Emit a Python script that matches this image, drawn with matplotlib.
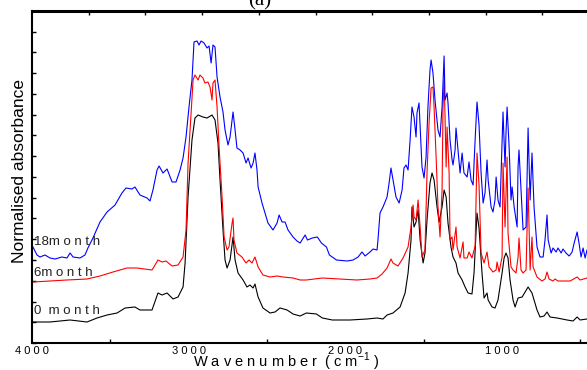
import matplotlib
matplotlib.use("Agg")
import matplotlib.pyplot as plt
import numpy as np

# ---------------- data (wavenumber cm-1, normalised absorbance, arbitrary units) -------------
wn_0m = [4000, 3885, 3757, 3649, 3585, 3521, 3457, 3406, 3343, 3311, 3234, 3196, 3170, 3138, 3100,
         3068, 3036, 3023, 3004, 2979, 2960, 2940, 2909, 2883, 2851, 2832, 2813, 2800, 2781, 2768,
         2755, 2736, 2717, 2704, 2685, 2653, 2628, 2609, 2589, 2577, 2557, 2526, 2481, 2449, 2417,
         2372, 2334, 2289, 2249, 2185, 2147, 2083, 1970, 1862, 1798, 1760, 1734, 1696, 1651, 1619,
         1600, 1581, 1575, 1562, 1549, 1536, 1523, 1504, 1492, 1479, 1460, 1447, 1434, 1415, 1402,
         1383, 1370, 1357, 1345, 1326, 1313, 1294, 1281, 1255, 1236, 1217, 1192, 1179, 1160, 1147,
         1128, 1115, 1096, 1089, 1064, 1045, 1026, 1000, 987, 975, 962, 949, 930, 917, 898,
         872, 853, 834, 809, 777, 758, 732, 713, 694, 649, 585, 547, 521, 502, 458]
ab_0m = [0.21, 0.21, 0.23, 0.21, 0.25, 0.28, 0.30, 0.35, 0.36, 0.33, 0.33, 0.50, 0.48, 0.50, 0.44,
         0.46, 0.56, 0.80, 1.46, 2.03, 2.25, 2.28, 2.26, 2.25, 2.28, 2.23, 2.00, 1.63, 1.13, 0.83,
         0.75, 0.83, 1.06, 0.83, 0.70, 0.63, 0.56, 0.58, 0.55, 0.59, 0.46, 0.35, 0.30, 0.31, 0.35,
         0.33, 0.29, 0.27, 0.30, 0.29, 0.25, 0.23, 0.23, 0.24, 0.25, 0.24, 0.28, 0.30, 0.36, 0.50,
         0.70, 1.03, 1.36, 1.16, 1.21, 1.33, 1.03, 0.80, 0.90, 1.23, 1.60, 1.70, 1.63, 1.36, 1.21,
         1.36, 1.53, 1.46, 1.20, 0.96, 0.86, 0.80, 0.70, 0.63, 0.56, 0.50, 0.49, 0.70, 1.30, 1.15,
         0.70, 0.45, 0.50, 0.43, 0.36, 0.35, 0.43, 0.70, 0.85, 0.90, 0.85, 0.63, 0.43, 0.36, 0.45,
         0.46, 0.51, 0.56, 0.50, 0.33, 0.26, 0.27, 0.31, 0.26, 0.25, 0.23, 0.22, 0.26, 0.23, 0.24]

wn_6m = [3994, 3885, 3777, 3649, 3566, 3483, 3394, 3330, 3234, 3196, 3170, 3145, 3106, 3068, 3036,
         3017, 3004, 2985, 2972, 2960, 2940, 2928, 2909, 2896, 2877, 2864, 2851, 2845, 2832, 2819,
         2806, 2787, 2774, 2755, 2743, 2723, 2717, 2711, 2692, 2660, 2634, 2615, 2596, 2577, 2557,
         2526, 2481, 2436, 2398, 2334, 2289, 2249, 2147, 2034, 1926, 1843, 1798, 1766, 1734, 1709,
         1696, 1664, 1632, 1600, 1581, 1568, 1562, 1549, 1536, 1523, 1511, 1492, 1479, 1466, 1453,
         1441, 1434, 1421, 1409, 1396, 1383, 1377, 1370, 1364, 1357, 1351, 1338, 1332, 1319, 1313,
         1294, 1287, 1268, 1249, 1243, 1223, 1211, 1192, 1172, 1160, 1147, 1134, 1115, 1096, 1083,
         1058, 1038, 1032, 1019, 1000, 994, 981, 968, 962, 943, 930, 911, 898, 892, 879,
         866, 847, 834, 821, 809, 802, 777, 745, 726, 713, 700, 675, 662, 643, 566,
         521, 502, 458]
ab_6m = [0.61, 0.62, 0.63, 0.64, 0.67, 0.71, 0.75, 0.75, 0.73, 0.83, 0.81, 0.82, 0.77, 0.78, 0.86,
         1.13, 1.80, 2.30, 2.63, 2.68, 2.63, 2.68, 2.65, 2.60, 2.61, 2.56, 2.43, 2.60, 2.63, 2.36,
         1.96, 1.46, 1.06, 0.93, 0.96, 1.20, 1.25, 1.03, 0.90, 0.86, 0.80, 0.83, 0.80, 0.86, 0.76,
         0.68, 0.66, 0.67, 0.66, 0.65, 0.63, 0.63, 0.65, 0.64, 0.63, 0.64, 0.65, 0.69, 0.75, 0.84,
         0.80, 0.77, 0.85, 0.96, 1.16, 1.38, 1.26, 1.23, 1.43, 1.16, 0.86, 0.93, 1.70, 2.20, 2.55,
         2.56, 2.36, 1.86, 1.36, 1.06, 1.53, 2.36, 2.63, 2.26, 1.76, 2.16, 1.70, 1.03, 1.06, 0.93,
         1.16, 0.96, 0.85, 1.01, 0.85, 0.85, 0.91, 0.85, 0.97, 1.90, 1.58, 0.90, 0.80, 0.91, 0.76,
         0.71, 0.73, 0.81, 0.71, 0.86, 1.80, 1.16, 1.86, 1.10, 0.76, 0.73, 0.70, 0.86, 1.05, 0.73,
         0.70, 0.73, 1.55, 0.73, 1.06, 0.76, 0.66, 0.62, 0.64, 0.71, 0.64, 0.62, 0.64, 0.62, 0.62,
         0.66, 0.63, 0.65]

wn_18m = [3994, 3968, 3949, 3917, 3885, 3853, 3809, 3777, 3757, 3738, 3694, 3662, 3643, 3611, 3566,
          3521, 3470, 3426, 3400, 3362, 3343, 3311, 3266, 3247, 3228, 3202, 3189, 3164, 3138, 3106,
          3081, 3055, 3036, 3017, 2998, 2979, 2966, 2947, 2934, 2921, 2902, 2883, 2870, 2857, 2845,
          2832, 2819, 2800, 2781, 2768, 2749, 2736, 2717, 2704, 2692, 2672, 2653, 2634, 2621, 2602,
          2589, 2577, 2564, 2557, 2532, 2513, 2494, 2462, 2436, 2423, 2404, 2385, 2366, 2334, 2309,
          2289, 2257, 2242, 2211, 2179, 2153, 2121, 2102, 2057, 1989, 1951, 1919, 1894, 1874, 1843,
          1823, 1798, 1792, 1779, 1760, 1734, 1721, 1709, 1696, 1677, 1657, 1638, 1626, 1613, 1600,
          1587, 1575, 1562, 1549, 1543, 1530, 1523, 1511, 1498, 1485, 1473, 1460, 1453, 1441, 1428,
          1415, 1409, 1396, 1383, 1370, 1364, 1351, 1345, 1332, 1319, 1313, 1300, 1294, 1281, 1268,
          1255, 1243, 1223, 1211, 1198, 1185, 1172, 1160, 1147, 1134, 1121, 1109, 1096, 1089, 1070,
          1058, 1045, 1038, 1026, 1013, 1000, 994, 981, 975, 968, 955, 943, 936, 923, 904,
          898, 892, 879, 866, 847, 834, 821, 809, 796, 777, 758, 738, 726, 713, 706,
          687, 675, 655, 643, 623, 611, 592, 572, 553, 540, 521, 509, 496, 483, 470, 458]
ab_18m = [0.96, 0.88, 0.86, 0.88, 0.85, 0.84, 0.86, 0.85, 0.90, 0.86, 0.85, 0.88, 0.95, 1.05, 1.21,
          1.31, 1.38, 1.50, 1.55, 1.54, 1.56, 1.48, 1.45, 1.42, 1.53, 1.73, 1.77, 1.70, 1.74, 1.61,
          1.61, 1.73, 1.85, 2.06, 2.36, 2.63, 3.01, 3.02, 2.98, 3.02, 3.00, 2.95, 2.97, 2.80, 2.98,
          2.96, 2.66, 2.46, 2.31, 2.13, 1.98, 2.06, 2.31, 2.13, 1.95, 1.93, 1.90, 1.80, 1.85, 1.75,
          1.80, 1.90, 1.73, 1.56, 1.40, 1.30, 1.20, 1.13, 1.20, 1.28, 1.21, 1.21, 1.13, 1.06, 1.02,
          1.00, 1.08, 1.03, 1.05, 1.06, 1.00, 0.96, 0.88, 0.83, 0.82, 0.83, 0.86, 0.91, 0.87, 0.91,
          0.94, 0.93, 1.03, 1.30, 1.36, 1.46, 1.60, 1.75, 1.63, 1.46, 1.40, 1.53, 1.75, 1.78, 1.73,
          2.03, 2.36, 2.26, 2.06, 2.30, 2.40, 2.16, 1.76, 1.65, 1.86, 2.36, 2.73, 2.83, 2.70, 2.43,
          2.23, 2.13, 2.06, 2.36, 2.87, 2.43, 2.50, 2.40, 2.03, 1.83, 1.78, 1.93, 2.15, 1.93, 1.70,
          1.90, 1.70, 1.66, 1.81, 1.63, 1.58, 2.03, 2.41, 2.18, 1.70, 1.40, 1.50, 1.83, 1.63, 1.36,
          1.31, 1.43, 1.66, 1.43, 1.36, 2.03, 2.31, 1.76, 2.10, 2.36, 1.96, 1.43, 1.56, 1.36, 1.16,
          1.76, 1.93, 1.53, 1.13, 1.16, 2.15, 1.43, 1.90, 1.36, 0.96, 0.86, 0.86, 1.03, 1.28, 1.03,
          0.90, 0.95, 0.91, 0.95, 0.90, 0.94, 0.90, 0.87, 0.91, 1.00, 1.11, 1.00, 0.86, 0.95, 0.85, 0.93]

series_labels = ["0  m o n t h", "6m o n t h", "18m o n t h"]
series_label_y = [0.32, 0.70, 1.01]
series_colors = ["black", "red", "blue"]

x_major = [4000, 3000, 2000, 1000]
x_major_labels = ["4 0 0 0", "3 0 0 0", "2 0 0 0", "1 0 0 0"]
x_minor = [3500, 2500, 1500, 500]
top_ticks = [4000 - 362 * k for k in range(1, 10)]

# ---------------- figure -------------
W, H = 587, 370
fig = plt.figure(figsize=(W / 100, H / 100), dpi=100)
ax = fig.add_axes([32 / W, (H - 343) / H, (W - 32) / W, (343 - 11) / H])

for wn, ab, c in [(wn_0m, ab_0m, "black"), (wn_6m, ab_6m, "red"), (wn_18m, ab_18m, "blue")]:
    ax.plot(wn, ab, color=c, lw=0.8)

ax.set_xlim(4000, 458)
ax.set_ylim(0, 3.32)

ax.spines["right"].set_visible(False)
ax.spines["top"].set_visible(False)
ax.spines["left"].set_linewidth(1.5)
ax.spines["bottom"].set_linewidth(1.5)

ax.set_xticks(x_major)
ax.set_xticklabels(x_major_labels, fontsize=8, family="Liberation Sans")
ax.set_xticks(x_minor, minor=True)
ax.tick_params(axis="x", which="major", length=0, pad=2)
ax.tick_params(axis="x", which="minor", length=3, direction="in", width=1)
ax.set_yticks(np.arange(0, 3.33, 0.2075))
ax.set_yticklabels([])
ax.tick_params(axis="y", direction="in", length=3, width=1)

sec = ax.secondary_xaxis("top")
sec.set_xticks(top_ticks)
sec.set_xticklabels([])
sec.tick_params(direction="in", length=3, width=1)
sec.spines["top"].set_linewidth(2.2)

for lab, yv, c in zip(series_labels, series_label_y, series_colors):
    ax.text(3985, yv, lab, fontsize=9.5, family="Liberation Sans", color="#222222",
            ha="left", va="center")

fig.text(19.5 / W, 1 - 171 / H, "Normalised absorbance", rotation=90, ha="center", va="center",
         fontsize=12.5, family=["Liberation Sans Narrow", "Liberation Sans"])

plt.rcParams["mathtext.fontset"] = "custom"
plt.rcParams["mathtext.rm"] = "Liberation Sans"
fig.text(286 / W, 1 - 367 / H, r"W a v e n u m b e r  ( c m$^{\mathregular{-1}}$ )",
         ha="center", va="baseline", fontsize=10.5, family="Liberation Sans")

fig.text(260 / W, 1 - 5 / H, "(a)", ha="center", va="baseline", fontsize=15,
         family="Liberation Serif")

fig.savefig("out.png", dpi=100)
